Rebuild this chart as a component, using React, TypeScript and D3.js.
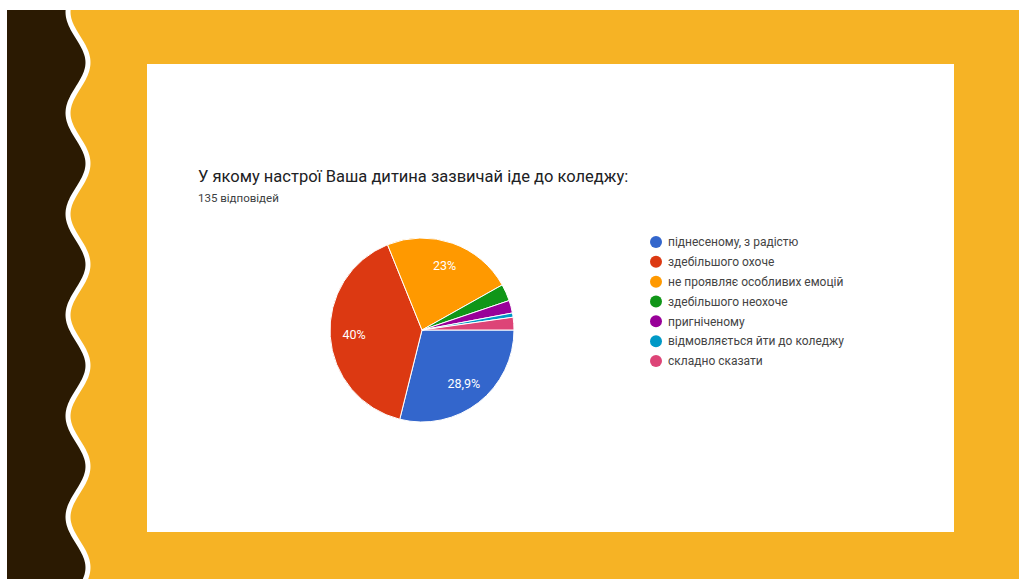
import * as d3 from "d3";
import React from "react";

const title = "У якому настрої Ваша дитина зазвичай іде до коледжу:";
const subtitle = "135 відповідей";
const categories = [
  "піднесеному, з радістю",
  "здебільшого охоче",
  "не проявляє особливих емоцій",
  "здебільшого неохоче",
  "пригніченому",
  "відмовляється йти до коледжу",
  "складно сказати",
];
const counts = [39, 54, 31, 4, 3, 1, 3];
const percentLabels = ["28,9%", "40%", "23%", "", "", "", ""];
const colors = ["#3366cc", "#dc3912", "#ff9900", "#109618", "#990099", "#0099c6", "#dd4477"];

const W = 1019;
const H = 579;

export default function App() {
  const cx = 422;
  const cy = 330;
  const r = 92;

  const pie = d3
    .pie<number>()
    .sort(null)
    .startAngle(Math.PI / 2)
    .endAngle(Math.PI / 2 + 2 * Math.PI);
  const arcs = pie(counts);
  const arc = d3.arc<d3.PieArcDatum<number>>().innerRadius(0).outerRadius(r);
  const labelArc = d3.arc<d3.PieArcDatum<number>>().innerRadius(r * 0.74).outerRadius(r * 0.74);

  // wavy edge of the dark strip
  const waveY = d3.range(6, H + 6, 2);
  const waveX = (y: number) => 78 - 10 * Math.cos((2 * Math.PI * (y - 12)) / 101);
  const wave = d3
    .line<number>()
    .x((y) => waveX(y))
    .y((y) => y)
    .curve(d3.curveBasis);
  const wavePath = wave(waveY) || "";
  const darkPath = `M7,6 L${waveX(6)},6 ${wavePath.slice(1)} L7,${H + 6} Z`;

  const legendY = d3.scalePoint<string>().domain(categories).range([242, 361]);

  return (
    <div style={{ position: "absolute", left: 0, top: 0 }}>
      <svg width={W} height={H} style={{ display: "block" }} fontFamily="Roboto, Arial, sans-serif">
        <rect x={0} y={0} width={W} height={H} fill="#ffffff" />
        <rect x={7} y={10} width={W - 7} height={H - 10} fill="#f6b325" />
        <g clipPath="url(#frame)">
          <path d={darkPath} fill="#2b1a02" />
          <path d={wavePath} fill="none" stroke="#ffffff" strokeWidth={5} />
        </g>
        <defs>
          <clipPath id="frame">
            <rect x={7} y={10} width={W - 7} height={H - 10} />
          </clipPath>
        </defs>
        <rect x={147} y={64} width={807} height={468} fill="#ffffff" />

        <text x={198} y={182} fontSize={16.5} fill="#202124">
          {title}
        </text>
        <text x={198} y={202} fontSize={11.5} fill="#3c4043">
          {subtitle}
        </text>

        <g transform={`translate(${cx},${cy})`}>
          {arcs.map((a, i) => (
            <path key={i} d={arc(a) || ""} fill={colors[i]} stroke="#ffffff" strokeWidth={1} />
          ))}
          {arcs.map((a, i) => {
            const [lx, ly] = labelArc.centroid(a);
            return percentLabels[i] ? (
              <text key={i} x={lx} y={ly} dy="0.35em" textAnchor="middle" fontSize={12.5} fill="#ffffff">
                {percentLabels[i]}
              </text>
            ) : null;
          })}
        </g>

        <g>
          {categories.map((c, i) => (
            <g key={c} transform={`translate(656,${legendY(c)})`}>
              <circle r={6} fill={colors[i]} />
              <text x={12} dy="0.35em" fontSize={12} fill="#444444">
                {c}
              </text>
            </g>
          ))}
        </g>
      </svg>
    </div>
  );
}
